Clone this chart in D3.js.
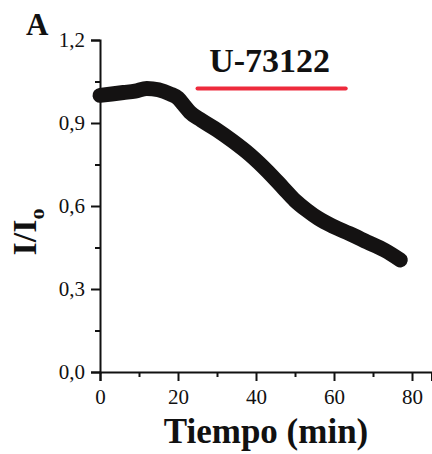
<!DOCTYPE html>
<html>
<head>
<meta charset="utf-8">
<script src="https://cdn.jsdelivr.net/npm/d3@7"></script>
<style>
  html, body { margin: 0; padding: 0; background: #fff; }
  svg { display: block; }
</style>
</head>
<body>
<svg id="chart" width="432" height="454"></svg>
<script>
// ---- data ----
const timeMin = [0, 3, 6, 9, 12, 15, 18, 20, 21.5, 23, 26, 30, 34, 38.5, 43, 47, 50, 53, 56, 60, 64, 68.5, 73, 77];
const ratio   = [1.00, 1.005, 1.01, 1.015, 1.025, 1.02, 1.005, 0.99, 0.965, 0.94, 0.91, 0.875, 0.835, 0.785, 0.725, 0.665, 0.62, 0.585, 0.555, 0.525, 0.5, 0.47, 0.44, 0.405];
const xTickValues = [0, 20, 40, 60, 80];
const xMinorTicks = [10, 30, 50, 70];
const yTickValues = [0, 0.3, 0.6, 0.9, 1.2];
const yTickLabels = ["0,0", "0,3", "0,6", "0,9", "1,2"];
const yMinorTicks = [0.15, 0.45, 0.75, 1.05];
const drugLabel = "U-73122";
const drugStart = [25];
const drugEnd = [63];
const drugLevel = [1.025];

// ---- layout ----
const FONT = '"Liberation Serif", "Times New Roman", serif';
const svg = d3.select("#chart");
const x = d3.scaleLinear().domain([0, 85]).range([100, 431.5]);
const y = d3.scaleLinear().domain([0, 1.2]).range([372, 40]);
const axisColor = "#111";

function styleAxis(g) {
  g.attr("font-family", FONT);
  g.selectAll(".domain").attr("stroke", axisColor).attr("stroke-width", 2);
  g.selectAll(".tick line").attr("stroke", axisColor).attr("stroke-width", 2);
  g.selectAll(".tick text")
    .style("font-family", FONT).style("font-size", "21px").style("fill", "#111");
}

// X axis
const gx = svg.append("g").attr("transform", `translate(0,${y(0)})`);
gx.call(d3.axisBottom(x).tickValues(xTickValues).tickSize(9).tickPadding(8).tickFormat(d3.format("d")));
const gxm = gx.append("g").call(d3.axisBottom(x).tickValues(xMinorTicks).tickSize(5).tickFormat(""));
gxm.select(".domain").remove();
styleAxis(gx);

// Y axis
const gy = svg.append("g").attr("transform", `translate(${x(0)},0)`);
gy.call(d3.axisLeft(y).tickValues(yTickValues).tickSize(9).tickPadding(6).tickFormat((d, i) => yTickLabels[i]));
const gym = gy.append("g").call(d3.axisLeft(y).tickValues(yMinorTicks).tickSize(5).tickFormat(""));
gym.select(".domain").remove();
styleAxis(gy);

// Data trace
const pts = timeMin.map((t, i) => [t, ratio[i]]);
const line = d3.line().x(d => x(d[0])).y(d => y(d[1])).curve(d3.curveMonotoneX);
svg.append("path")
  .attr("d", line(pts))
  .attr("fill", "none")
  .attr("stroke", "#141212")
  .attr("stroke-width", 15)
  .attr("stroke-linecap", "round")
  .attr("stroke-linejoin", "round");

// Drug application bar
svg.append("line")
  .attr("x1", x(drugStart[0])).attr("x2", x(drugEnd[0]))
  .attr("y1", y(drugLevel[0])).attr("y2", y(drugLevel[0]))
  .attr("stroke", "#ee2a3c").attr("stroke-width", 4).attr("stroke-linecap", "round");

function addText(txt, xx, yy, size, anchor) {
  return svg.append("text")
    .attr("x", xx).attr("y", yy)
    .attr("text-anchor", anchor)
    .style("font-family", FONT).style("font-size", size + "px")
    .style("font-weight", "bold").style("fill", "#111")
    .text(txt);
}

addText(drugLabel, (x(drugStart[0]) + x(drugEnd[0])) / 2 - 2, 72, 34, "middle");
addText("A", 26, 35, 31, "start");
addText("Tiempo (min)", 266, 443, 35, "middle");

// Y axis title I/Io
const yt = svg.append("text")
  .attr("transform", "translate(36,232) rotate(-90)")
  .attr("text-anchor", "middle")
  .style("font-family", FONT).style("font-size", "34px")
  .style("font-weight", "bold").style("fill", "#111");
yt.append("tspan").text("I/I");
yt.append("tspan").style("font-size", "22px").attr("dy", 8).text("o");
</script>
</body>
</html>
